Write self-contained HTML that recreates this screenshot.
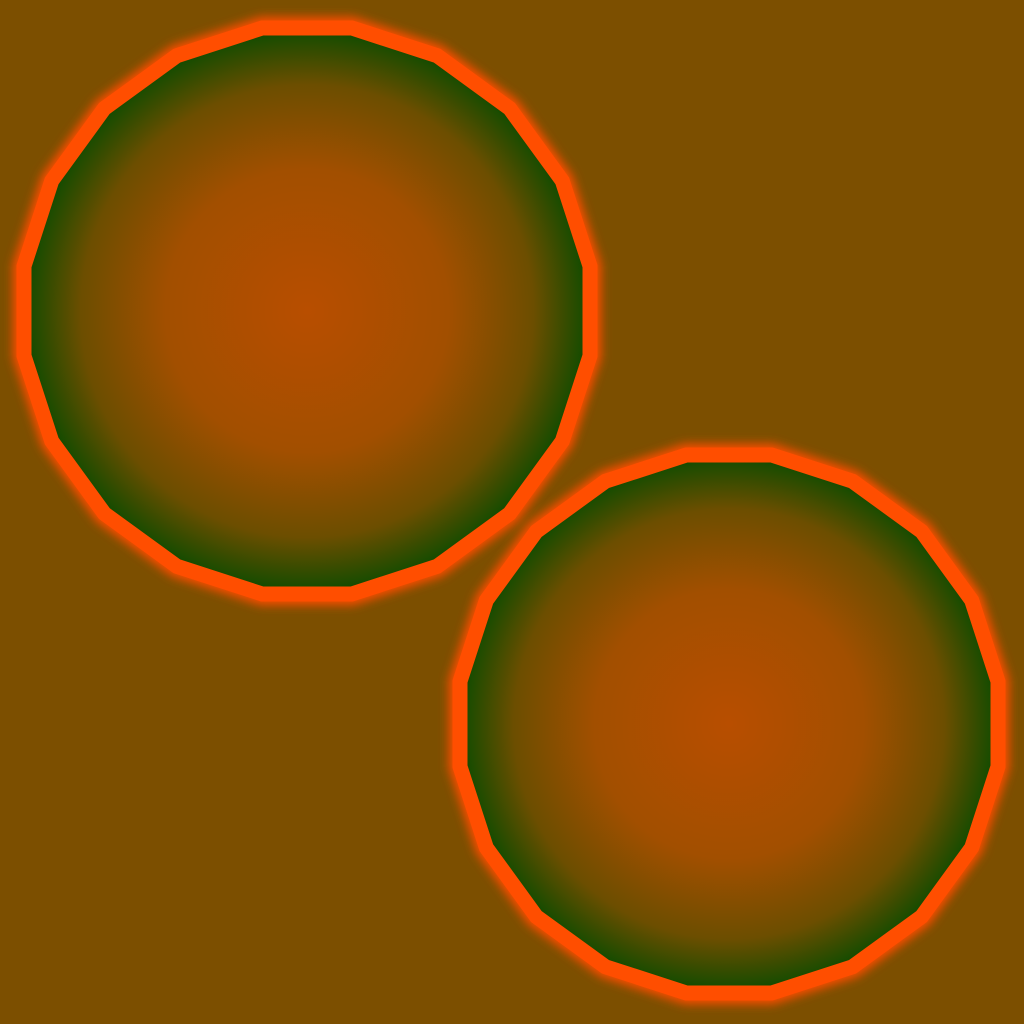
<!DOCTYPE html>
<html><head><meta charset="utf-8"><style>html,body{margin:0;padding:0;background:#7c4f00;}svg{display:block;}</style></head>
<body>
<svg id="chart" width="1024" height="1024" viewBox="0 0 1024 1024" xmlns="http://www.w3.org/2000/svg">
<defs>
<radialGradient id="fillGrad" cx="0.5" cy="0.5" r="0.5">
<stop offset="0" stop-color="#b84e00"/>
<stop offset="0.5" stop-color="#a24f00"/>
<stop offset="0.8" stop-color="#6c4e00"/>
<stop offset="1" stop-color="#0f4b00"/>
</radialGradient>
<filter id="glow" x="-20%" y="-20%" width="140%" height="140%"><feGaussianBlur stdDeviation="5"/></filter>
</defs>
<rect width="1024" height="1024" fill="#7c4f00"/>
<g id="shapes"></g>
</svg>
<script>
const centersX = [307, 729];
const centersY = [311, 724];
const apothems = [283, 269];
const sides = 20;
const g = document.getElementById('shapes');
const ns = 'http://www.w3.org/2000/svg';
for (let i = 0; i < centersX.length; i++) {
  const R = apothems[i] / Math.cos(Math.PI / sides);
  const pts = [];
  for (let k = 0; k < sides; k++) {
    const a = (k + 0.5) * 2 * Math.PI / sides;
    pts.push((centersX[i] + R * Math.cos(a)).toFixed(1) + ',' + (centersY[i] + R * Math.sin(a)).toFixed(1));
  }
  const glow = document.createElementNS(ns, 'polygon');
  
  
  glow.setAttribute('points', pts.join(' '));
  glow.setAttribute('fill', 'none');
  glow.setAttribute('stroke', '#ff4e00');
  glow.setAttribute('stroke-width', '22');
  glow.setAttribute('filter', 'url(#glow)');
  g.appendChild(glow);
  const p = document.createElementNS(ns, 'polygon');
  
  
  p.setAttribute('points', pts.join(' '));
  p.setAttribute('fill', 'url(#fillGrad)');
  p.setAttribute('stroke', '#ff4e00');
  p.setAttribute('stroke-width', '15');
  g.appendChild(p);
}
</script>
</body></html>
